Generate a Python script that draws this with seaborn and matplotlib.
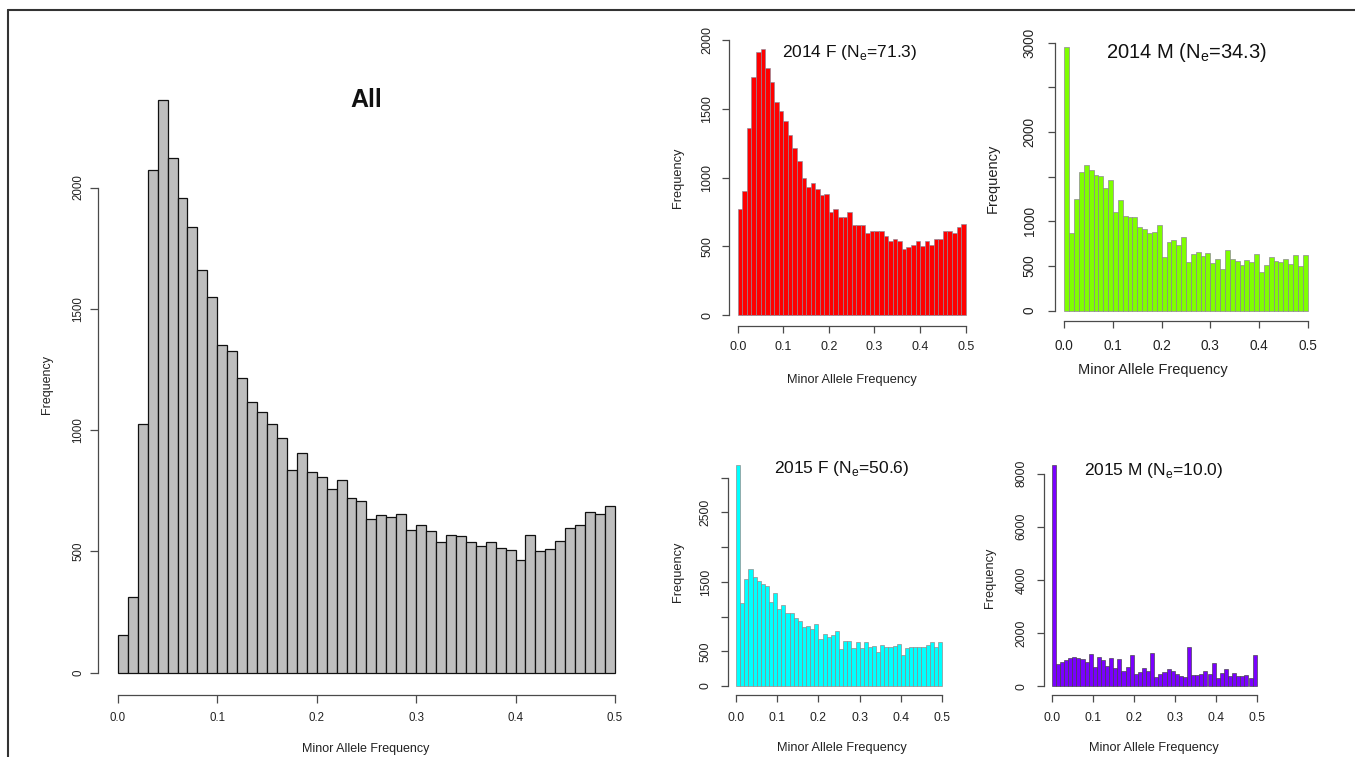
import numpy as np
import pandas as pd
import matplotlib
matplotlib.use("Agg")
import matplotlib.pyplot as plt
from matplotlib.lines import Line2D
import seaborn as sns

# ---------------- data (counts per 0.01-wide MAF bin, 0.00 .. 0.50) ----------------
bin_edges = np.linspace(0.0, 0.5, 51)
bin_centers = (bin_edges[:-1] + bin_edges[1:]) / 2

counts_all = [153, 310, 1023, 2071, 2361, 2123, 1958, 1838, 1658, 1547,
              1352, 1327, 1216, 1117, 1073, 1023, 966, 835, 905, 826,
              805, 758, 795, 718, 709, 632, 649, 642, 655, 587,
              610, 583, 538, 569, 563, 537, 522, 537, 512, 507,
              463, 566, 500, 511, 543, 596, 609, 662, 653, 686]

counts_2014F = [771, 904, 1360, 1731, 1910, 1932, 1799, 1692, 1549, 1486,
                1411, 1307, 1212, 1118, 996, 931, 958, 914, 873, 880,
                749, 771, 710, 710, 749, 655, 655, 655, 599, 611,
                613, 608, 575, 538, 550, 538, 478, 497, 507, 538,
                502, 541, 507, 553, 550, 608, 608, 594, 638, 659]

counts_2014M = [2955, 873, 1250, 1549, 1634, 1575, 1522, 1507, 1377, 1466,
                1101, 1243, 1060, 1045, 1045, 937, 918, 873, 881, 955,
                597, 769, 787, 735, 821, 545, 631, 660, 612, 642,
                530, 575, 466, 683, 582, 560, 507, 571, 545, 634,
                433, 511, 597, 560, 545, 582, 526, 627, 500, 619]

counts_2015F = [3188, 1192, 1538, 1688, 1567, 1514, 1466, 1442, 1216, 1337,
                1111, 1168, 1058, 1058, 976, 942, 856, 865, 822, 889,
                673, 750, 712, 736, 793, 534, 644, 654, 543, 635,
                548, 635, 567, 582, 490, 591, 567, 558, 582, 601,
                452, 553, 558, 558, 567, 562, 596, 639, 567, 630]

counts_2015M = [8320, 816, 891, 979, 1041, 1104, 1041, 1016, 916, 1204,
                728, 1104, 979, 753, 1041, 690, 1016, 565, 703, 1167,
                439, 514, 690, 577, 1230, 351, 452, 540, 652, 577,
                452, 389, 351, 1455, 414, 414, 452, 565, 439, 853,
                314, 477, 627, 376, 502, 376, 389, 414, 314, 1167]

titles = ["All", "2014 F (N$_\\mathregular{e}$=71.3)", "2014 M (N$_\\mathregular{e}$=34.3)",
          "2015 F (N$_\\mathregular{e}$=50.6)", "2015 M (N$_\\mathregular{e}$=10.0)"]
x_ticks = [0.0, 0.1, 0.2, 0.3, 0.4, 0.5]
x_ticklabels = ["0.0", "0.1", "0.2", "0.3", "0.4", "0.5"]
xlabel = "Minor Allele Frequency"
ylabel = "Frequency"

# y ticks and which of them carry labels (as in the original R plots)
yticks_all = [0, 500, 1000, 1500, 2000]
yticks_2014F = [0, 500, 1000, 1500, 2000]
yticks_2014M = [0, 500, 1000, 1500, 2000, 2500, 3000]
ylabels_2014M = ["0", "500", "1000", "", "2000", "", "3000"]
yticks_2015F = [0, 500, 1000, 1500, 2000, 2500, 3000]
ylabels_2015F = ["0", "500", "", "1500", "", "2500", ""]
yticks_2015M = [0, 2000, 4000, 6000, 8000]

# ---------------- style ----------------
sns.set_theme(style="white")
plt.rcParams["font.family"] = ["Liberation Sans", "DejaVu Sans"]

W, H = 1355, 757
fig = plt.figure(figsize=(W / 100, H / 100), dpi=100)
fig.patch.set_facecolor("white")


def rect(left, top, width, height):
    return [left / W, 1 - (top + height) / H, width / W, height / H]


def fpx(x, y):
    return x / W, 1 - y / H


AX_COL = "#4a4a4a"

panels = [
    dict(counts=counts_all, title=titles[0], rect=rect(98, 77.1, 536.8, 618.3),
         color="#BEBEBE", edge="#111111", lw=0.9,
         yticks=yticks_all, ylabels=[str(v) for v in yticks_all],
         tick_fs=8.3, lab_fs=9, xlab=(366, 749), ylab=(47, 385),
         title_xy=(366, 100), title_fs=18, title_bold=True,
         xpad=6.5, ypad=4.5, tlen=5.5),
    dict(counts=counts_2014F, title=titles[1], rect=rect(728.6, 38.8, 246.2, 286.9),
         color="#FF0000", edge="#8a8a9a", lw=0.45,
         yticks=yticks_2014F, ylabels=[str(v) for v in yticks_2014F],
         tick_fs=9, lab_fs=9.2, xlab=(852, 380), ylab=(678, 178),
         title_xy=(850, 52), title_fs=12.5, title_bold=False,
         xpad=6, ypad=6, tlen=5),
    dict(counts=counts_2014M, title=titles[2], rect=rect(1054.6, 36.2, 262.8, 285.1),
         color="#7FFF00", edge="#8a7a9a", lw=0.45,
         yticks=yticks_2014M, ylabels=ylabels_2014M,
         tick_fs=9.8, lab_fs=10.5, xlab=(1153, 370), ylab=(993, 178),
         title_xy=(1186, 52), title_fs=14.5, title_bold=False,
         xpad=8, ypad=8, tlen=5),
    dict(counts=counts_2015F, title=titles[3], rect=rect(727.8, 455.8, 222.5, 239.1),
         color="#00FFFF", edge="#9a8080", lw=0.45,
         yticks=yticks_2015F, ylabels=ylabels_2015F,
         tick_fs=8.8, lab_fs=9.2, xlab=(842, 748), ylab=(678, 572),
         title_xy=(842, 469), title_fs=12.5, title_bold=False,
         xpad=7, ypad=6.5, tlen=5),
    dict(counts=counts_2015M, title=titles[4], rect=rect(1043.5, 456.4, 221.4, 238.5),
         color="#7A00FF", edge="#404040", lw=0.45,
         yticks=yticks_2015M, ylabels=[str(v) for v in yticks_2015M],
         tick_fs=8.8, lab_fs=9.2, xlab=(1154, 748), ylab=(990, 578),
         title_xy=(1154, 471), title_fs=12.5, title_bold=False,
         xpad=7, ypad=6.5, tlen=5),
]

for p in panels:
    ax = fig.add_axes(p["rect"])
    df = pd.DataFrame({"maf": bin_centers, "count": p["counts"]})
    sns.histplot(data=df, x="maf", weights="count", binwidth=0.01,
                 binrange=(0.0, 0.5), ax=ax,
                 color=p["color"], edgecolor=p["edge"], linewidth=p["lw"],
                 alpha=1.0)
    ymax = max(p["counts"])
    ax.set_xlim(-0.02, 0.52)
    ax.set_ylim(-0.04 * ymax, 1.04 * ymax)
    ax.set_facecolor("none")
    for s in ["top", "right"]:
        ax.spines[s].set_visible(False)
    for s in ["left", "bottom"]:
        ax.spines[s].set_visible(True)
        ax.spines[s].set_color(AX_COL)
        ax.spines[s].set_linewidth(0.9)
    ax.spines["bottom"].set_bounds(0, 0.5)
    ax.spines["left"].set_bounds(p["yticks"][0], p["yticks"][-1])

    ax.set_xticks(x_ticks)
    ax.set_xticklabels(x_ticklabels)
    ax.set_yticks(p["yticks"])
    ax.set_yticklabels(p["ylabels"])
    ax.tick_params(axis="both", which="major", direction="out", length=p["tlen"],
                   width=0.9, color=AX_COL, labelsize=p["tick_fs"],
                   labelcolor="#222222", bottom=True, left=True)
    ax.tick_params(axis="x", pad=p["xpad"])
    ax.tick_params(axis="y", pad=p["ypad"])
    for lbl in ax.get_yticklabels():
        lbl.set_rotation(90)
        lbl.set_va("center")
        lbl.set_ha("right")

    ax.set_xlabel(xlabel, fontsize=p["lab_fs"], color="#222222", va="center")
    ax.set_ylabel(ylabel, fontsize=p["lab_fs"], color="#222222", va="center")
    ax.xaxis.set_label_coords(*fpx(*p["xlab"]), transform=fig.transFigure)
    ax.yaxis.set_label_coords(*fpx(*p["ylab"]), transform=fig.transFigure)

    tx, ty = fpx(*p["title_xy"])
    fig.text(tx, ty, p["title"], ha="center", va="center",
             fontsize=p["title_fs"], color="#111111",
             fontweight="bold" if p["title_bold"] else "normal")

# frame lines (top and left) around the figure, as in the reference
fig.add_artist(Line2D([8 / W, 1.0], [1 - 10 / H, 1 - 10 / H], transform=fig.transFigure,
                      color="#333333", lw=1.5))
fig.add_artist(Line2D([8 / W, 8 / W], [0.0, 1 - 10 / H], transform=fig.transFigure,
                      color="#333333", lw=1.5))

fig.savefig("out.png", dpi=100, facecolor="white")
